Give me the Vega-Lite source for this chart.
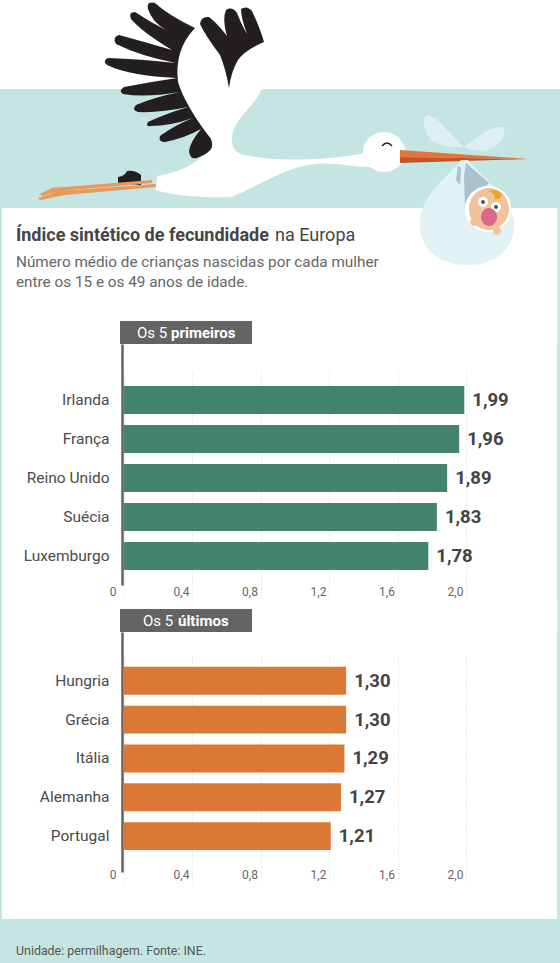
{
  "$schema": "https://vega.github.io/schema/vega-lite/v6.json",
  "background": "#c4e5e1",
  "padding": 0,
  "spacing": 0,
  "bounds": "flush",
  "config": {
    "view": {"stroke": null},
    "font": "Roboto",
    "locale": {"number": {"decimal": ",", "thousands": ".", "grouping": [3], "currency": ["", " €"]}},
    "axis": {"labelFont": "Roboto", "title": null}
  },
  "vconcat": [
    {
      "width": 560,
      "height": 321,
      "data": {"values": [{"parte": "cabecalho"}]},
      "encoding": {
        "x": {"datum": 0, "type": "quantitative", "scale": {"domain": [0, 560], "range": [0, 560]}, "axis": null},
        "y": {"datum": 0, "type": "quantitative", "scale": {"domain": [0, 321], "range": [0, 321]}, "axis": null}
      },
      "layer": [
        {"mark": {"type": "rect", "fill": "#ffffff"}, "encoding": {"x": {"datum": 0}, "x2": {"datum": 560}, "y": {"datum": 0}, "y2": {"datum": 89}}},
        {"mark": {"type": "rect", "fill": "#ffffff"}, "encoding": {"x": {"datum": 2}, "x2": {"datum": 557.5}, "y": {"datum": 208}, "y2": {"datum": 321}}},
        {"mark": {"type": "point", "filled": true, "size": 4, "opacity": 1, "fill": "#ffffff", "strokeWidth": 0, "shape": "M178 85 L264 85 C252 112 232 118 232 140 C232 150 238 155 250 156 C285 162 330 160 365 153 L370 167 C350 167 335 162 315 164 C290 166 265 182 232 197 C205 198 175 196 155 190 Q157 182 157 176 C180 172 195 165 212 148 Z"}},
        {"mark": {"type": "point", "filled": true, "size": 4, "opacity": 1, "fill": "#ffffff", "strokeWidth": 0, "shape": "M363 152 A21 20 0 1 1 405 152 A21 20 0 1 1 363 152 Z"}},
        {"mark": {"type": "point", "filled": true, "size": 4, "opacity": 1, "fill": "#231f20", "strokeWidth": 0, "shape": "M195 28 Q168 15 155 3 Q146 1 148 9 Q152 22 166 30 Q150 22 135 12 Q128 12 131 19 Q142 32 172 50 Q145 42 119 35 Q112 37 116 44 Q140 56 176 63 Q140 59 108 58 Q102 61 107 65 Q130 76 177 78 Q150 82 124 87 Q118 91 123 94 Q145 98 180 92 Q155 97 136 105 Q131 110 138 112 Q160 113 188 107 Q165 114 148 122 Q145 127 151 126 Q170 126 193 118 Q175 125 160 136 Q158 142 165 142 Q185 138 201 129 Q190 142 189 151 Q190 160 197 158 Q210 153 212 147 Q213 140 208 135 Q185 105 178 82 Q174 50 195 28 Z"}},
        {"mark": {"type": "point", "filled": true, "size": 4, "opacity": 1, "fill": "#231f20", "strokeWidth": 0, "shape": "M229 88 Q226 70 220 55 Q205 35 200 24 Q201 16 209 17 Q218 24 227 36 Q222 20 226 10 Q232 6 237 13 Q241 24 247 34 Q241 18 241 9 Q247 5 252 11 Q260 28 264 42 Q245 50 238 60 Q231 72 229 88 Z"}},
        {"mark": {"type": "point", "filled": true, "size": 4, "opacity": 1, "fill": "#231f20", "strokeWidth": 0, "shape": "M118 177 Q125 176 127 171 Q135 170 141 175 L141 185 L118 183 Z"}},
        {"mark": {"type": "point", "filled": true, "size": 4, "opacity": 1, "fill": "#e8985a", "strokeWidth": 0, "shape": "M152 180 L152 183 L60 191 L42 196 L40 194 L52 188 Z M156 184 L156 187 L65 195 L40 200 L38 198 L60 191 Z"}},
        {"mark": {"type": "point", "filled": true, "size": 4, "opacity": 1, "fill": "#e2763a", "strokeWidth": 0, "shape": "M400 150 L528 159 L400 157 Z"}},
        {"mark": {"type": "point", "filled": true, "size": 4, "opacity": 1, "fill": "#c5532a", "strokeWidth": 0, "shape": "M400 157 L528 159 L400 163 Z"}},
        {"mark": {"type": "point", "filled": false, "size": 4, "opacity": 1, "stroke": "#231f20", "strokeWidth": 1.3, "shape": "M382 146 Q387 140 392 146"}},
        {"mark": {"type": "point", "filled": true, "size": 4, "opacity": 1, "fill": "#deeff2", "strokeWidth": 0, "shape": "M464 147 C450 135 440 118 428 115 C420 118 424 135 434 142 C442 147 455 147 464 147 Z M464 147 C475 140 490 125 503 127 C508 135 500 145 488 150 C480 152 470 150 464 147 Z"}},
        {"mark": {"type": "point", "filled": true, "size": 4, "opacity": 1, "fill": "#e1f2f5", "strokeWidth": 0, "shape": "M461 160 C445 180 420 195 420 225 C420 250 440 265 468 265 C495 265 514 250 514 225 C514 200 480 175 468 160 Z"}},
        {"mark": {"type": "point", "filled": true, "size": 4, "opacity": 1, "fill": "#a8c3cd", "strokeWidth": 0, "shape": "M466 163 L489 183 L465 207 L464 175 Z M458 166 L456 180 L460 185 L461 168 Z"}},
        {"mark": {"type": "point", "filled": true, "size": 4, "opacity": 1, "fill": "#ffffff", "strokeWidth": 0, "shape": "M465 209 A23 23 0 1 1 511 209 A23 23 0 1 1 465 209 Z"}},
        {"mark": {"type": "point", "filled": true, "size": 4, "opacity": 1, "fill": "#f2c29c", "strokeWidth": 0, "shape": "M469 209 A20 21 0 1 1 509 209 A20 21 0 1 1 469 209 Z M470 222 A4 4 0 1 1 478 222 A4 4 0 1 1 470 222 Z M493 231 A4 4 0 1 1 501 231 A4 4 0 1 1 493 231 Z"}},
        {"mark": {"type": "point", "filled": true, "size": 4, "opacity": 1, "fill": "#eea52c", "strokeWidth": 0, "shape": "M488 191 Q497 188 502 194 Q501 200 494 199 Q497 194 488 191 Z"}},
        {"mark": {"type": "point", "filled": true, "size": 4, "opacity": 1, "fill": "#ffffff", "strokeWidth": 0, "shape": "M478 202 A5 5 0 1 1 488 202 A5 5 0 1 1 478 202 Z M491 207 A5 5 0 1 1 501 207 A5 5 0 1 1 491 207 Z"}},
        {"mark": {"type": "point", "filled": true, "size": 4, "opacity": 1, "fill": "#4a5560", "strokeWidth": 0, "shape": "M481 202 A2 2 0 1 1 485 202 A2 2 0 1 1 481 202 Z M494 207 A2 2 0 1 1 498 207 A2 2 0 1 1 494 207 Z"}},
        {"mark": {"type": "point", "filled": true, "size": 4, "opacity": 1, "fill": "#d9688a", "strokeWidth": 0, "shape": "M481 217 A8 9 0 1 1 497 217 A8 9 0 1 1 481 217 Z"}},
        {"mark": {"type": "text", "align": "left", "baseline": "middle", "font": "Roboto", "fontSize": 18, "fontWeight": "bold", "color": "#454545", "text": "Índice sintético de fecundidade"}, "encoding": {"x": {"datum": 16}, "y": {"datum": 236}}},
        {"mark": {"type": "text", "align": "left", "baseline": "middle", "font": "Roboto", "fontSize": 18, "color": "#454545", "text": "na Europa"}, "encoding": {"x": {"datum": 275}, "y": {"datum": 236}}},
        {"mark": {"type": "text", "align": "left", "baseline": "middle", "font": "Roboto", "fontSize": 15.3, "color": "#666666", "text": "Número médio de crianças nascidas por cada mulher"}, "encoding": {"x": {"datum": 16}, "y": {"datum": 262}}},
        {"mark": {"type": "text", "align": "left", "baseline": "middle", "font": "Roboto", "fontSize": 15.3, "color": "#666666", "text": "entre os 15 e os 49 anos de idade."}, "encoding": {"x": {"datum": 16}, "y": {"datum": 282}}}
      ]
    },
    {
      "width": 560,
      "height": 23,
      "data": {"values": [{"parte": "separador"}]},
      "encoding": {
        "x": {"datum": 0, "type": "quantitative", "scale": {"domain": [0, 560], "range": [0, 560]}, "axis": null},
        "y": {"datum": 0, "type": "quantitative", "scale": {"domain": [0, 23], "range": [0, 23]}, "axis": null}
      },
      "layer": [
        {"mark": {"type": "rect", "fill": "#ffffff"}, "encoding": {"x": {"datum": 2}, "x2": {"datum": 557.5}, "y": {"datum": 0}, "y2": {"datum": 23}}},
        {"mark": {"type": "rect", "fill": "#636363"}, "encoding": {"x": {"datum": 120}, "x2": {"datum": 252}, "y": {"datum": 0}, "y2": {"datum": 23}}},
        {"mark": {"type": "text", "align": "left", "baseline": "middle", "fontSize": 15, "color": "#ffffff", "text": "Os 5"}, "encoding": {"x": {"datum": 137}, "y": {"datum": 11.5}}},
        {"mark": {"type": "text", "align": "left", "baseline": "middle", "fontSize": 15, "fontWeight": "bold", "color": "#ffffff", "text": "primeiros"}, "encoding": {"x": {"datum": 171}, "y": {"datum": 11.5}}}
      ]
    },
    {
      "width": 560,
      "height": 256,
      "view": {"fill": "#ffffff"},
      "data": {
        "values": [
          {"pais": "Irlanda", "valor": 1.99},
          {"pais": "França", "valor": 1.96},
          {"pais": "Reino Unido", "valor": 1.89},
          {"pais": "Suécia", "valor": 1.83},
          {"pais": "Luxemburgo", "valor": 1.78}
        ]
      },
      "encoding": {
        "x": {
          "field": "valor",
          "type": "quantitative",
          "scale": {"domain": [-0.7212, 2.5489], "nice": false, "zero": false},
          "axis": {
            "orient": "top",
            "offset": -28,
            "values": [0, 0.4, 0.8, 1.2, 1.6, 2],
            "labelExpr": "datum.value == 0 ? '0' : replace(format(datum.value, '.1f'), '.', ',')",
            "domain": false,
            "grid": false,
            "tickSize": -228,
            "tickColor": "#d8d8d8",
            "tickDash": [1, 2],
            "labelColor": "#666666",
            "labelFontSize": 12,
            "labelOffset": -11,
            "labelPadding": 2,
            "labelFlush": false
          }
        },
        "y": {
          "field": "pais",
          "type": "nominal",
          "sort": null,
          "scale": {"range": [0, 241], "paddingInner": 0.282, "paddingOuter": 0.7306, "align": 0.737},
          "axis": {
            "orient": "left",
            "offset": -122,
            "ticks": false,
            "domainColor": "#636363",
            "domainWidth": 2.5,
            "labelColor": "#4a4a4a",
            "labelFontSize": 15.5,
            "labelPadding": 13
          }
        }
      },
      "layer": [
        {"mark": {"type": "rect", "fill": "#c4e5e1"}, "encoding": {"x": {"datum": -0.7212}, "x2": {"datum": -0.7095}, "y": null}},
        {"mark": {"type": "rect", "fill": "#c4e5e1"}, "encoding": {"x": {"datum": 2.5343}, "x2": {"datum": 2.5489}, "y": null}},
        {"mark": {"type": "bar", "color": "#43836f"}, "encoding": {"x2": {"datum": 0}}},
        {"mark": {"type": "text", "align": "left", "baseline": "middle", "dx": 8, "fontSize": 18.5, "fontWeight": "bold", "color": "#444444"}, "encoding": {"text": {"field": "valor", "format": ".2f"}}}
      ]
    },
    {
      "width": 560,
      "height": 32,
      "data": {"values": [{"parte": "separador"}]},
      "encoding": {
        "x": {"datum": 0, "type": "quantitative", "scale": {"domain": [0, 560], "range": [0, 560]}, "axis": null},
        "y": {"datum": 0, "type": "quantitative", "scale": {"domain": [0, 32], "range": [0, 32]}, "axis": null}
      },
      "layer": [
        {"mark": {"type": "rect", "fill": "#ffffff"}, "encoding": {"x": {"datum": 2}, "x2": {"datum": 557.5}, "y": {"datum": 0}, "y2": {"datum": 32}}},
        {"mark": {"type": "rect", "fill": "#636363"}, "encoding": {"x": {"datum": 120}, "x2": {"datum": 252}, "y": {"datum": 9}, "y2": {"datum": 32}}},
        {"mark": {"type": "text", "align": "left", "baseline": "middle", "fontSize": 15, "color": "#ffffff", "text": "Os 5"}, "encoding": {"x": {"datum": 143}, "y": {"datum": 21}}},
        {"mark": {"type": "text", "align": "left", "baseline": "middle", "fontSize": 15, "fontWeight": "bold", "color": "#ffffff", "text": "últimos"}, "encoding": {"x": {"datum": 178}, "y": {"datum": 21}}}
      ]
    },
    {
      "width": 560,
      "height": 287,
      "view": {"fill": "#ffffff"},
      "data": {
        "values": [
          {"pais": "Hungria", "valor": 1.3},
          {"pais": "Grécia", "valor": 1.3},
          {"pais": "Itália", "valor": 1.29},
          {"pais": "Alemanha", "valor": 1.27},
          {"pais": "Portugal", "valor": 1.21}
        ]
      },
      "encoding": {
        "x": {
          "field": "valor",
          "type": "quantitative",
          "scale": {"domain": [-0.7212, 2.5489], "nice": false, "zero": false},
          "axis": {
            "orient": "top",
            "offset": -24,
            "values": [0, 0.4, 0.8, 1.2, 1.6, 2],
            "labelExpr": "datum.value == 0 ? '0' : replace(format(datum.value, '.1f'), '.', ',')",
            "domain": false,
            "grid": false,
            "tickSize": -227,
            "tickColor": "#d8d8d8",
            "tickDash": [1, 2],
            "labelColor": "#666666",
            "labelFontSize": 12,
            "labelOffset": -11,
            "labelPadding": 2,
            "labelFlush": false
          }
        },
        "y": {
          "field": "pais",
          "type": "nominal",
          "sort": null,
          "scale": {"range": [0, 240], "paddingInner": 0.282, "paddingOuter": 0.7306, "align": 0.614},
          "axis": {
            "orient": "left",
            "offset": -122,
            "ticks": false,
            "domainColor": "#636363",
            "domainWidth": 2.5,
            "labelColor": "#4a4a4a",
            "labelFontSize": 15.5,
            "labelPadding": 13
          }
        }
      },
      "layer": [
        {"mark": {"type": "rect", "fill": "#c4e5e1"}, "encoding": {"x": {"datum": -0.7212}, "x2": {"datum": -0.7095}, "y": null}},
        {"mark": {"type": "rect", "fill": "#c4e5e1"}, "encoding": {"x": {"datum": 2.5343}, "x2": {"datum": 2.5489}, "y": null}},
        {"mark": {"type": "bar", "color": "#dc7835"}, "encoding": {"x2": {"datum": 0}}},
        {"mark": {"type": "text", "align": "left", "baseline": "middle", "dx": 8, "fontSize": 18.5, "fontWeight": "bold", "color": "#444444"}, "encoding": {"text": {"field": "valor", "format": ".2f"}}}
      ]
    },
    {
      "width": 560,
      "height": 44,
      "data": {"values": [{"parte": "rodape"}]},
      "encoding": {
        "x": {"datum": 16, "type": "quantitative", "scale": {"domain": [0, 560], "range": [0, 560]}, "axis": null},
        "y": {"datum": 32, "type": "quantitative", "scale": {"domain": [0, 44], "range": [0, 44]}, "axis": null}
      },
      "mark": {"type": "text", "align": "left", "baseline": "middle", "fontSize": 12.4, "color": "#555555", "text": "Unidade: permilhagem. Fonte: INE."}
    }
  ]
}
